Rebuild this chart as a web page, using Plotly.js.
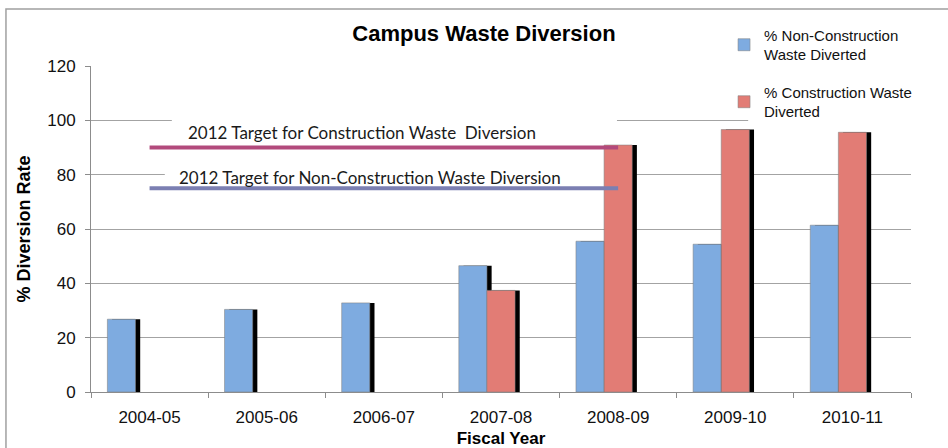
<!DOCTYPE html>
<html>
<head>
<meta charset="utf-8">
<script src="https://cdn.plot.ly/plotly-3.0.1.min.js"></script>
<style>html,body{margin:0;padding:0;background:#fff;}#chart{width:948px;height:448px;}</style>
</head>
<body>
<div id="chart"></div>
<script>
// ---- data ----
const categories = ['2004-05', '2005-06', '2006-07', '2007-08', '2008-09', '2009-10', '2010-11'];
const nonConstruction = [26.8, 30.4, 32.8, 46.5, 55.5, 54.4, 61.4];
const construction = [null, null, null, 37.4, 90.9, 96.6, 95.6];
const seriesNames = ['% Non-Construction<br>Waste Diverted', '% Construction Waste<br>Diverted'];
const targetLabels = ['2012 Target for Construction Waste  Diversion', '2012 Target for Non-Construction Waste Diversion'];
const targetValues = [90, 75];
const targetSpan = [categories[0], categories[4]];
const yTickValues = [0, 20, 40, 60, 80, 100, 120];

// ---- styles ----
const BAR_W = 0.24;
const blueColor = '#7eabe0';
const redColor = '#e27c75';
const barLine = {color: 'rgba(130,130,130,0.55)', width: 1};
const shadowShift = 0.04;
const baseFont = 'Liberation Sans, Arial, sans-serif';

const traces = [
  {type: 'bar', x: categories, y: nonConstruction, width: BAR_W, offset: -0.36 + shadowShift,
   marker: {color: '#000'}, showlegend: false, hoverinfo: 'skip'},
  {type: 'bar', name: seriesNames[0], legendgroup: 'a', x: categories, y: nonConstruction, width: BAR_W, offset: -0.36,
   marker: {color: blueColor, line: barLine}},
  {type: 'bar', x: categories, y: construction, width: BAR_W, offset: -0.12 + shadowShift,
   marker: {color: '#000'}, showlegend: false, hoverinfo: 'skip'},
  {type: 'bar', name: seriesNames[1], legendgroup: 'b', x: categories, y: construction, width: BAR_W, offset: -0.12,
   marker: {color: redColor, line: barLine}},
  {type: 'scatter', mode: 'lines', x: targetSpan, y: [targetValues[0], targetValues[0]],
   line: {color: '#b24a7c', width: 4}, showlegend: false, hoverinfo: 'skip'},
  {type: 'scatter', mode: 'lines', x: targetSpan, y: [targetValues[1], targetValues[1]],
   line: {color: '#7b7fb2', width: 4}, showlegend: false, hoverinfo: 'skip'}
];

const layout = {
  width: 948, height: 448,
  margin: {l: 91, r: 37, t: 66, b: 56},
  paper_bgcolor: '#fff', plot_bgcolor: '#fff',
  barmode: 'overlay',
  font: {family: baseFont, color: '#111', size: 16},
  title: {text: '<b>Campus Waste Diversion</b>', font: {size: 22, family: baseFont, color: '#000'},
          xref: 'container', yref: 'container', x: 0.5105, y: 0.926, xanchor: 'center', yanchor: 'middle'},
  xaxis: {
    type: 'category', range: [-0.5, 6.5], showline: true, linecolor: '#8c8c8c', linewidth: 1,
    ticks: 'outside', tickson: 'boundaries', ticklen: 5, tickcolor: '#8c8c8c',
    tickfont: {size: 17, color: '#111'}, ticklabelstandoff: 10,
    showgrid: false, zeroline: false,
    title: {text: '<b>Fiscal Year</b>', font: {size: 17, color: '#000'}, standoff: 6}
  },
  yaxis: {
    range: [0, 120], tickvals: yTickValues, showline: true, linecolor: '#8c8c8c', linewidth: 1,
    ticks: 'outside', ticklen: 5, tickcolor: '#8c8c8c', tickfont: {size: 17, color: '#111'},
    ticklabelstandoff: 6,
    showgrid: true, gridcolor: '#a3a3a3', gridwidth: 1, zeroline: false,
    title: {text: '<b>% Diversion Rate</b>', font: {size: 18, color: '#000'}, standoff: 11}
  },
  legend: {x: 0.772, xanchor: 'left', y: 1.145, yanchor: 'top', bgcolor: 'rgba(0,0,0,0)',
           font: {size: 15, color: '#111'}, tracegroupgap: 15, traceorder: 'grouped'},
  shapes: [
    {type: 'rect', layer: 'between', xref: 'x', yref: 'y', x0: 0.19, x1: 3.99, y0: 93, y1: 101.5,
     fillcolor: '#fff', line: {width: 0}},
    {type: 'rect', layer: 'between', xref: 'x', yref: 'y', x0: 0.13, x1: 3.89, y0: 77, y1: 85.5,
     fillcolor: '#fff', line: {width: 0}},
    {type: 'rect', layer: 'between', xref: 'x', yref: 'y', x0: 5.11, x1: 6.5, y0: 99, y1: 121,
     fillcolor: '#fff', line: {width: 0}},
    {type: 'rect', layer: 'below', xref: 'paper', yref: 'paper', x0: -0.1037, x1: 1.08, y0: -0.22, y1: 1.1748,
     fillcolor: 'rgba(0,0,0,0)', line: {color: '#a0a0a0', width: 1.5}}
  ],
  annotations: [
    {xref: 'x', yref: 'y', x: 1.816, y: 95.5, text: targetLabels[0], showarrow: false,
     font: {family: 'Lato, Open Sans, sans-serif', size: 17, color: '#1a1a1a'}},
    {xref: 'x', yref: 'y', x: 1.885, y: 79.0, text: targetLabels[1], showarrow: false,
     font: {family: 'Lato, Open Sans, sans-serif', size: 17, color: '#1a1a1a'}}
  ],
  hovermode: false
};

Plotly.newPlot('chart', traces, layout, {staticPlot: true, displayModeBar: false});
</script>
</body>
</html>
